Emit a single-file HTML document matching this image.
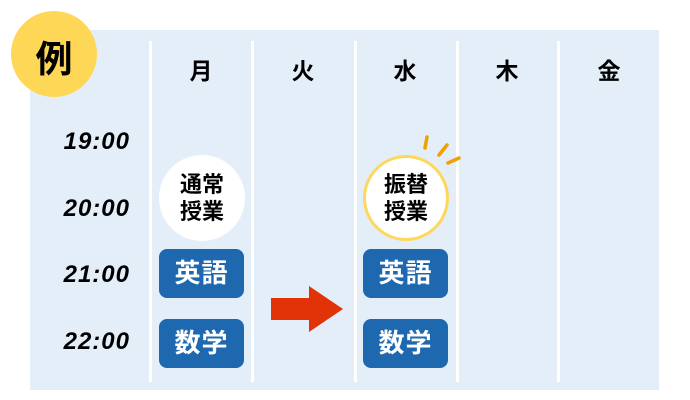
<!DOCTYPE html>
<html><head><meta charset="utf-8"><style>
*{margin:0;padding:0}
body{width:690px;height:400px;background:#fff;position:relative;overflow:hidden;font-family:"Liberation Sans","Noto Sans CJK JP",sans-serif}
.abs{position:absolute}
.panel{left:30px;top:30px;width:629px;height:360px;background:#e3eef8}
.div{top:41px;width:3px;height:341px;background:#fff}
.day{top:52px;width:60px;text-align:center;font-size:23px;font-weight:bold;color:#000}
.time{left:40px;width:90px;text-align:right;font-size:24px;font-weight:bold;font-style:italic;color:#000;letter-spacing:1px}
.box{width:85px;height:49px;border-radius:8px;background:#1e68b0;color:#fff;font-size:26px;font-weight:bold;text-align:center;line-height:49px;letter-spacing:1px}
.circ{width:86px;height:86px;border-radius:50%;background:#fff;box-sizing:border-box;text-align:center;font-size:22px;font-weight:bold;color:#000;line-height:27px;padding-top:16px}
</style></head><body>
<div class="abs panel"></div>
<div class="abs div" style="left:149px"></div>
<div class="abs div" style="left:251px"></div>
<div class="abs div" style="left:354px"></div>
<div class="abs div" style="left:456px"></div>
<div class="abs div" style="left:557px"></div>
<div class="abs" style="left:11px;top:11px;width:86px;height:86px;border-radius:50%;background:#fed756"></div>
<div class="abs" style="left:11px;top:29px;width:86px;text-align:center;font-size:37px;font-weight:bold;color:#000">例</div>
<div class="abs day" style="left:171px">月</div>
<div class="abs day" style="left:273px">火</div>
<div class="abs day" style="left:375px">水</div>
<div class="abs day" style="left:477px">木</div>
<div class="abs day" style="left:579px">金</div>
<div class="abs time" style="top:128px">19:00</div>
<div class="abs time" style="top:195px">20:00</div>
<div class="abs time" style="top:261px">21:00</div>
<div class="abs time" style="top:328px">22:00</div>
<div class="abs circ" style="left:159px;top:155px">通常<br>授業</div>
<div class="abs circ" style="left:363px;top:155px;border:3px solid #fdd85c;padding-top:13px">振替<br>授業</div>
<div class="abs box" style="left:159px;top:249px">英語</div>
<div class="abs box" style="left:159px;top:319px">数学</div>
<div class="abs box" style="left:363px;top:249px">英語</div>
<div class="abs box" style="left:363px;top:319px">数学</div>
<svg class="abs" style="left:0;top:0" width="690" height="400">
<rect x="271" y="298" width="39" height="22" fill="#e23208"/>
<polygon points="309,286 343,309 309,332" fill="#e23208"/>
<g stroke="#f0a000" stroke-width="3.5" stroke-linecap="round">
<line x1="427" y1="137" x2="425" y2="148"/>
<line x1="447" y1="145" x2="439" y2="155"/>
<line x1="459" y1="158" x2="448" y2="163"/>
</g>
</svg>
</body></html>
